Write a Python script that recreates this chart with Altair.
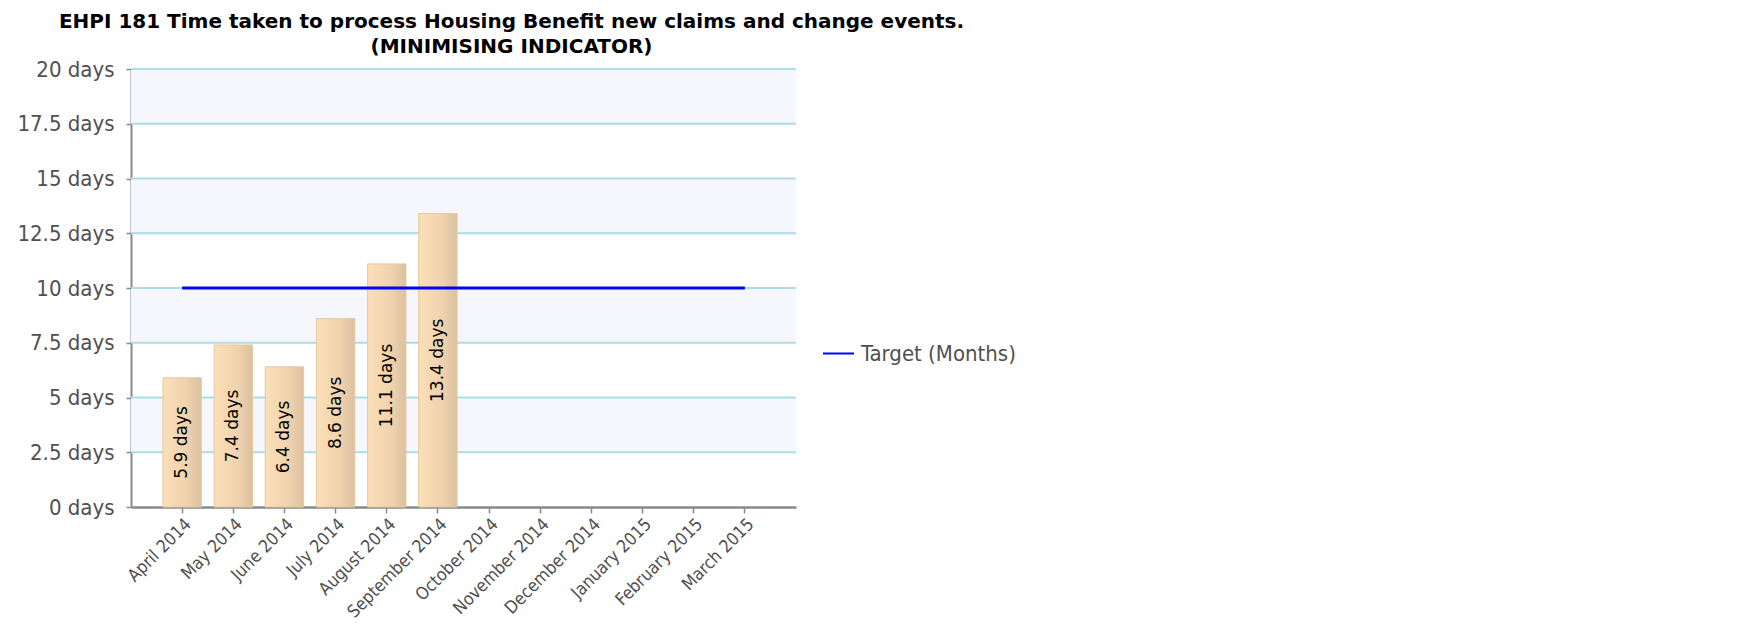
import altair as alt
import pandas as pd

months = ["April 2014", "May 2014", "June 2014", "July 2014", "August 2014",
          "September 2014", "October 2014", "November 2014", "December 2014",
          "January 2015", "February 2015", "March 2015"]
bar_months = months[:6]
bar_values = [5.9, 7.4, 6.4, 8.6, 11.1, 13.4]
target_values = [10] * 12
tick_values = [0, 2.5, 5, 7.5, 10, 12.5, 15, 17.5, 20]
band_lo = [2.5, 7.5, 12.5, 17.5]
band_hi = [5, 10, 15, 20]
series_name = "Target (Months)"

W, H = 665, 438
AX_FONT = "DejaVu Sans Condensed"

bars_df = pd.DataFrame({"month": bar_months, "value": bar_values,
                        "label": [f"{v} days" for v in bar_values]})
bars_df["half"] = bars_df["value"] / 2
target_df = pd.DataFrame({"month": months, "value": target_values,
                          "series": [series_name] * len(months)})
band_df = pd.DataFrame({"lo": band_lo, "hi": band_hi})
grid_df = pd.DataFrame({"v": tick_values[1:]})

xscale = alt.Scale(domain=months, paddingInner=0.25, paddingOuter=0.625)
yscale = alt.Scale(domain=[0, 20], nice=False)

xaxis = alt.Axis(title=None, labelAngle=-45, labelFont=AX_FONT, labelFontSize=17.5,
                 labelColor="#505050", domainColor="#8a8a8a", domainWidth=2.5,
                 tickColor="#8a8a8a", tickSize=6, tickWidth=1.5, labelPadding=2,
                 grid=False, labelOverlap=False)
yaxis = alt.Axis(title=None, values=tick_values, labelExpr="datum.value + ' days'",
                 labelFont=AX_FONT, labelFontSize=22, labelColor="#505050",
                 domainColor="#8a8a8a", domainWidth=2, tickColor="#8a8a8a",
                 tickSize=5, tickWidth=1.5, labelPadding=12, grid=False)

bands = alt.Chart(band_df).mark_rect(color="#F5F7FD").encode(
    x=alt.value(0), x2=alt.value(W),
    y=alt.Y("lo:Q", scale=yscale, axis=yaxis),
    y2="hi:Q",
)

grid = alt.Chart(grid_df).mark_rule(color="#A9DDE7", strokeWidth=2).encode(
    y=alt.Y("v:Q", scale=yscale),
)

bar_fill = alt.Gradient(
    gradient="linear",
    stops=[alt.GradientStop(color="#FBDFB8", offset=0),
           alt.GradientStop(color="#F0D3AE", offset=0.6),
           alt.GradientStop(color="#DCC1A0", offset=1)],
    x1=0, x2=1, y1=0, y2=0,
)

bars = alt.Chart(bars_df).mark_bar(color=bar_fill, stroke="#E6C89E", strokeWidth=1).encode(
    x=alt.X("month:N", scale=xscale, axis=xaxis, sort=months),
    y=alt.Y("value:Q", scale=yscale),
)

labels = alt.Chart(bars_df).mark_text(angle=270, align="center", baseline="middle",
                                      font="DejaVu Sans", fontSize=17, color="black").encode(
    x=alt.X("month:N", scale=xscale, sort=months),
    y=alt.Y("half:Q", scale=yscale),
    text="label:N",
)

line = alt.Chart(target_df).mark_line(strokeWidth=3).encode(
    x=alt.X("month:N", scale=xscale, sort=months),
    y=alt.Y("value:Q", scale=yscale),
    color=alt.Color("series:N",
                    scale=alt.Scale(domain=[series_name], range=["#0000FF"]),
                    legend=alt.Legend(title=None, orient="none", legendX=691, legendY=268,
                                      symbolType="stroke", symbolStrokeWidth=2,
                                      symbolSize=960, labelFont=AX_FONT, labelFontSize=22,
                                      labelColor="#505050", labelOffset=6)),
)

chart = alt.layer(bands, grid, bars, labels, line).properties(
    width=W, height=H,
    title=alt.TitleParams(
        text=["EHPI 181 Time taken to process Housing Benefit new claims and change events.",
              "(MINIMISING INDICATOR)"],
        font="DejaVu Sans", fontSize=20, fontWeight="bold", color="black",
        anchor="middle", lineHeight=25, offset=1, dx=48),
    autosize=alt.AutoSizeParams(type="none"),
    padding={"left": 123, "top": 61, "right": 260, "bottom": 115},
).configure_view(stroke=None)

chart.save("out.html", embed_options={"renderer": "svg", "actions": False})
